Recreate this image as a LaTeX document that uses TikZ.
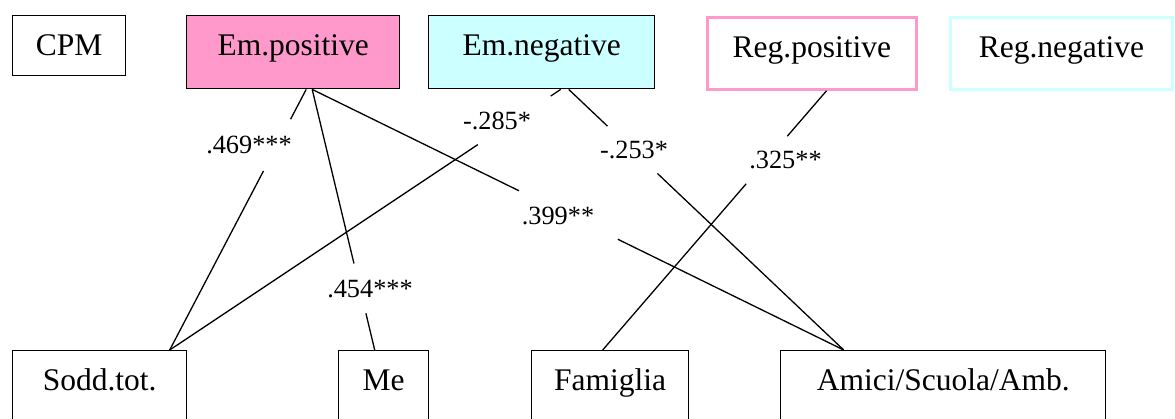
\documentclass[tikz,border=0pt]{standalone}
\usepackage{fontspec}
\setmainfont{Liberation Serif}
\newfontfamily\tnr{Liberation Serif}
\usetikzlibrary{calc}
\definecolor{pinkfill}{HTML}{FF99CC}
\definecolor{cyanfill}{HTML}{CCFFFF}
\begin{document}
\begin{tikzpicture}[x=1pt,y=-1pt,
  box/.style={draw=black, line width=1.4pt, rectangle, anchor=north west,
    inner xsep=0pt, inner ysep=15pt, text height=25pt,
    font=\tnr\fontsize{31.5}{36}\selectfont},
  conn/.style={draw=black, line width=1.3pt},
  lbl/.style={anchor=base, inner sep=0pt, font=\tnr\fontsize{26.3}{30}\selectfont}]
\useasboundingbox (0,0) rectangle (1175,419);
\fill[white] (0,0) rectangle (1175,419);
\clip (0,0) rectangle (1175,419);
% top boxes
\node[box, minimum width=113pt, minimum height=60pt, text depth=5pt] (cpm) at (12,15) {CPM};
\node[box, fill=pinkfill, minimum width=213pt, minimum height=73pt, text depth=18pt] (ep) at (186,15) {Em.positive};
\node[box, fill=cyanfill, minimum width=226pt, minimum height=73pt, text depth=18pt] (en) at (428,15) {Em.negative};
\node[box, draw=pinkfill, line width=2.8pt, minimum width=209pt, minimum height=72pt, text depth=17pt] (rp) at (706,16) {Reg.positive};
\node[box, draw=cyanfill, line width=2.8pt, minimum width=222pt, minimum height=72pt, text depth=17pt] (rn) at (949,16) {Reg.negative};
% bottom boxes
\node[box, minimum width=174pt, minimum height=100pt, text depth=45pt] (sodd) at (12,350) {Sodd.tot.};
\node[box, minimum width=90pt, minimum height=100pt, text depth=45pt] (me) at (338,350) {Me};
\node[box, minimum width=157pt, minimum height=100pt, text depth=45pt] (fam) at (531,350) {Famiglia};
\node[box, minimum width=325pt, minimum height=100pt, text depth=45pt] (ami) at (780,350) {Amici/Scuola/Amb.};
% connector ends
\coordinate (ep1) at ([xshift=13pt]ep.south);
\coordinate (ep2) at ([xshift=19pt]ep.south);
\coordinate (en1) at ([xshift=19pt]en.south);
\coordinate (en2) at ([xshift=27pt]en.south);
\coordinate (rp1) at ([xshift=14.6pt]rp.south);
\coordinate (so1) at ([xshift=70pt]sodd.north);
\coordinate (me1) at ([xshift=-9pt]me.north);
\coordinate (fa1) at ([xshift=-7.5pt]fam.north);
\coordinate (am1) at ([xshift=-99.5pt]ami.north);
% connectors with gaps for labels
\draw[conn] (ep1) -- ($(ep1)!0.1145!(so1)$) ($(ep1)!0.313!(so1)$) -- (so1);
\draw[conn] (ep2) -- ($(ep2)!0.668!(me1)$) ($(ep2)!0.859!(me1)$) -- (me1);
\draw[conn] (ep2) -- ($(ep2)!0.389!(am1)$) ($(ep2)!0.575!(am1)$) -- (am1);
\draw[conn] (en1) -- ($(en1)!0.0256!(so1)$) ($(en1)!0.212!(so1)$) -- (so1);
\draw[conn] (en2) -- ($(en2)!0.141!(am1)$) ($(en2)!0.3225!(am1)$) -- (am1);
\draw[conn] (rp1) -- ($(rp1)!0.175!(fa1)$) ($(rp1)!0.359!(fa1)$) -- (fa1);
% labels
\node[lbl] (l1) at (249,153.3) {.469***};
\node[lbl] (l2) at (370,297.3) {.454***};
\node[lbl] (l3) at (558,225) {.399**};
\node[lbl] (l4) at (497,130) {-.285*};
\node[lbl] (l5) at (634,158.3) {-.253*};
\node[lbl] (l6) at (785.5,169) {.325**};
\end{tikzpicture}
\end{document}
